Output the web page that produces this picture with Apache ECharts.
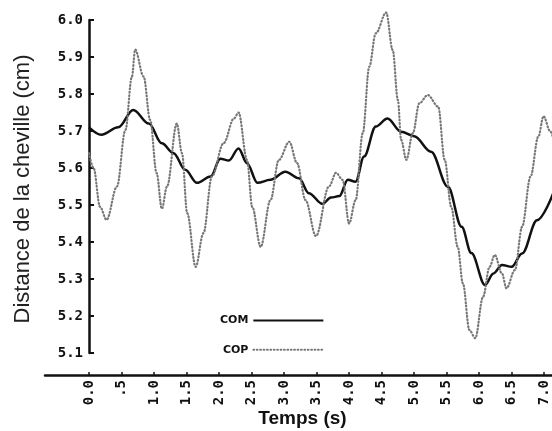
<!DOCTYPE html>
<html>
<head>
<meta charset="utf-8">
<script src="https://cdn.jsdelivr.net/npm/echarts@6/dist/echarts.min.js"></script>
<style>
html,body{margin:0;padding:0;background:#fff;}
#main{width:552px;height:431px;}
</style>
</head>
<body>
<div id="main"></div>
<script>
// Time (s) and ankle distance (cm) readings
const comT = [0, 0.19, 0.45, 0.68, 0.92, 1.12, 1.30, 1.48, 1.66, 1.87, 2.02, 2.15, 2.30, 2.43, 2.59, 2.79, 3.02, 3.23, 3.38, 3.59, 3.72, 3.85, 3.98, 4.10, 4.23, 4.41, 4.59, 4.80, 5.00, 5.26, 5.52, 5.73, 5.88, 6.09, 6.22, 6.35, 6.50, 6.66, 6.89, 7.14];
const comV = [5.71, 5.69, 5.71, 5.757, 5.72, 5.667, 5.64, 5.595, 5.56, 5.577, 5.625, 5.62, 5.653, 5.613, 5.56, 5.568, 5.59, 5.572, 5.532, 5.503, 5.52, 5.524, 5.568, 5.563, 5.631, 5.712, 5.734, 5.698, 5.686, 5.644, 5.549, 5.441, 5.37, 5.284, 5.315, 5.338, 5.333, 5.369, 5.459, 5.532];

const copT = [0, 0.07, 0.17, 0.27, 0.43, 0.56, 0.66, 0.71, 0.84, 0.94, 1.04, 1.12, 1.20, 1.35, 1.43, 1.51, 1.64, 1.76, 1.89, 2.07, 2.23, 2.30, 2.43, 2.51, 2.64, 2.79, 2.92, 3.08, 3.20, 3.33, 3.49, 3.69, 3.80, 3.90, 4.00, 4.10, 4.21, 4.31, 4.41, 4.57, 4.67, 4.75, 4.80, 4.88, 4.98, 5.08, 5.21, 5.37, 5.47, 5.57, 5.67, 5.75, 5.85, 5.94, 6.06, 6.16, 6.24, 6.35, 6.42, 6.55, 6.66, 6.79, 6.91, 6.99, 7.09, 7.14];
const copV = [5.64, 5.60, 5.495, 5.46, 5.55, 5.703, 5.847, 5.92, 5.847, 5.73, 5.586, 5.49, 5.55, 5.72, 5.64, 5.478, 5.333, 5.424, 5.577, 5.667, 5.734, 5.75, 5.622, 5.495, 5.387, 5.513, 5.622, 5.671, 5.613, 5.513, 5.416, 5.55, 5.587, 5.568, 5.45, 5.513, 5.694, 5.874, 5.964, 6.02, 5.919, 5.784, 5.676, 5.622, 5.694, 5.775, 5.797, 5.766, 5.622, 5.495, 5.387, 5.288, 5.162, 5.14, 5.252, 5.333, 5.365, 5.315, 5.275, 5.324, 5.441, 5.577, 5.685, 5.74, 5.70, 5.68];

const xTickValues = [0, 0.5, 1, 1.5, 2, 2.5, 3, 3.5, 4, 4.5, 5, 5.5, 6, 6.5, 7];
const xTickLabels = ["0.0", ".5", "1.0", "1.5", "2.0", "2.5", "3.0", "3.5", "4.0", "4.5", "5.0", "5.5", "6.0", "6.5", "7.0"];

const seriesNames = ["COM", "COP"];
const yTitle = 'Distance de la cheville (cm)';
const xTitle = 'Temps (s)';

const comData = comT.map((t, i) => [t, comV[i]]);
const copData = copT.map((t, i) => [t, copV[i]]);

const chart = echarts.init(document.getElementById('main'), null, {renderer: 'canvas'});
const tickFont = {fontFamily: 'DejaVu Sans Mono', fontWeight: 'bold', fontSize: 14, color: '#111'};

chart.setOption({
  backgroundColor: '#fff',
  animation: false,
  grid: [
    {left: 89, right: 0, top: 20, bottom: 78, containLabel: false, outerBoundsMode: 'none'},
    {left: 45, right: 0, top: 20, bottom: 78, containLabel: false, outerBoundsMode: 'none'}
  ],
  legend: {
    data: seriesNames,
    orient: 'vertical',
    align: 'right',
    left: 215,
    top: 310,
    itemWidth: 70,
    itemHeight: 14,
    itemGap: 18,
    itemStyle: {opacity: 0},
    textStyle: {fontFamily: 'DejaVu Sans', fontWeight: 'bold', fontSize: 11, color: '#111'}
  },
  xAxis: [
    {
      gridIndex: 0,
      type: 'value',
      min: 0,
      max: 7.12,
      offset: 22,
      axisLine: {show: false},
      axisTick: {inside: true, length: 3, lineStyle: {color: '#111', width: 1.5}, customValues: xTickValues},
      axisLabel: Object.assign({
        rotate: 90,
        margin: 5,
        customValues: xTickValues,
        formatter: function (v) {
          const i = xTickValues.findIndex(x => Math.abs(x - v) < 1e-6);
          return i >= 0 ? xTickLabels[i] : '';
        }
      }, tickFont),
      splitLine: {show: false}
    },
    {
      gridIndex: 1,
      type: 'value',
      min: 0,
      max: 1,
      offset: 22,
      name: xTitle,
      nameLocation: 'middle',
      nameGap: 34,
      nameTextStyle: {fontFamily: 'Liberation Sans', fontWeight: 'bold', fontSize: 19, color: '#111', padding: [0, 0, 0, 8]},
      axisLine: {show: true, onZero: false, lineStyle: {color: '#111', width: 2.5}},
      axisTick: {show: false},
      axisLabel: {show: false},
      splitLine: {show: false}
    }
  ],
  yAxis: [
    {
      gridIndex: 0,
      type: 'value',
      min: 5.1,
      max: 6.0,
      interval: 0.1,
      axisLine: {show: true, onZero: false, lineStyle: {color: '#111', width: 2.5}},
      axisTick: {show: true, inside: true, length: 5, lineStyle: {color: '#111', width: 2}},
      axisLabel: Object.assign({
        margin: 6,
        formatter: function (v) { return v.toFixed(1); }
      }, tickFont),
      splitLine: {show: false}
    },
    {
      gridIndex: 1,
      type: 'value',
      show: false,
      min: 0,
      max: 1
    }
  ],
  graphic: [{
    type: 'text',
    x: 23,
    y: 189,
    rotation: Math.PI / 2,
    style: {
      text: yTitle,
      fontFamily: 'Liberation Sans',
      fontSize: 22,
      fill: '#222',
      align: 'center',
      verticalAlign: 'middle'
    }
  }],
  series: [
    {
      name: seriesNames[0],
      type: 'line',
      xAxisIndex: 0,
      yAxisIndex: 0,
      data: comData,
      showSymbol: false,
      symbol: 'none',
      smooth: 0.35,
      smoothMonotone: 'x',
      clip: false,
      color: '#111',
      lineStyle: {color: '#111', width: 2.5}
    },
    {
      name: seriesNames[1],
      type: 'line',
      xAxisIndex: 0,
      yAxisIndex: 0,
      data: copData,
      showSymbol: false,
      symbol: 'none',
      smooth: 0.35,
      smoothMonotone: 'x',
      clip: false,
      color: '#777',
      lineStyle: {color: '#777', width: 2.2, type: [0.8, 2.6], cap: 'round'}
    }
  ]
});
</script>
</body>
</html>
